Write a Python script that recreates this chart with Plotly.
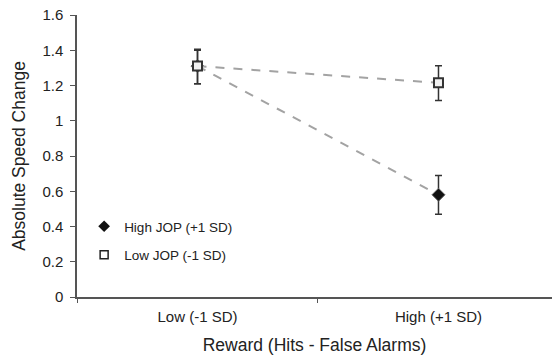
import plotly.graph_objects as go

categories = ["Low (-1 SD)", "High (+1 SD)"]
high_jop = [1.31, 0.58]
high_jop_err_plus = [0.09, 0.11]
high_jop_err_minus = [0.10, 0.11]
low_jop = [1.31, 1.215]
low_jop_err_plus = [0.095, 0.097]
low_jop_err_minus = [0.10, 0.10]
yticks = [0, 0.2, 0.4, 0.6, 0.8, 1, 1.2, 1.4, 1.6]
yticklabels = ["0", "0.2", "0.4", "0.6", "0.8", "1", "1.2", "1.4", "1.6"]

line_style = dict(color="#a3a3a3", width=2, dash="dash")
err_style = dict(color="#333", thickness=1.5, width=3.5)
diamond = dict(symbol="diamond", size=10, color="#111", line=dict(color="#666", width=1))
square = dict(symbol="square", size=9, color="#f2f2f2", line=dict(color="#333", width=2))

fig = go.Figure()
fig.add_trace(go.Scatter(
    x=categories, y=high_jop, name="High JOP (+1 SD)", showlegend=False,
    mode="lines+markers", line=line_style, marker=diamond,
    error_y=dict(type="data", symmetric=False, array=high_jop_err_plus,
                 arrayminus=high_jop_err_minus, **err_style),
))
fig.add_trace(go.Scatter(
    x=categories, y=low_jop, name="Low JOP (-1 SD)", showlegend=False,
    mode="lines+markers", line=line_style, marker=square,
    error_y=dict(type="data", symmetric=False, array=low_jop_err_plus,
                 arrayminus=low_jop_err_minus, **err_style),
))
# legend entries (marker only)
fig.add_trace(go.Scatter(x=[None], y=[None], name="High JOP (+1 SD)", mode="markers",
                         marker=dict(symbol="diamond", size=9, color="#111"),
                         legendgroup="a"))
fig.add_trace(go.Scatter(x=[None], y=[None], name="Low JOP (-1 SD)", mode="markers",
                         marker=dict(symbol="square", size=8, color="white",
                                     line=dict(color="#222", width=1.5)),
                         legendgroup="b"))

font_family = "Liberation Sans, Arial, sans-serif"
fig.update_layout(
    width=552, height=358,
    margin=dict(l=77, r=0, t=15, b=61),
    plot_bgcolor="white", paper_bgcolor="white",
    font=dict(family=font_family, color="#222", size=12),
    showlegend=True,
    legend=dict(x=0.015, y=0.305, xanchor="left", yanchor="top",
                font=dict(size=13.5, color="#222"), bgcolor="rgba(0,0,0,0)",
                traceorder="grouped", tracegroupgap=8, itemwidth=30),
    xaxis=dict(
        type="category", range=[-0.5, 1.471], tickson="boundaries",
        showline=True, linecolor="#555", linewidth=1.5,
        ticks="outside", ticklen=4, tickcolor="#555", tickwidth=1,
        ticklabelstandoff=5,
        showgrid=False, zeroline=False,
        tickfont=dict(size=15, color="#222"),
        title=dict(text="Reward (Hits - False Alarms)", font=dict(size=17.5, color="#222"), standoff=15),
    ),
    yaxis=dict(
        range=[0, 1.6], tickvals=yticks, ticktext=yticklabels,
        showline=True, linecolor="#555", linewidth=1.5,
        ticks="outside", ticklen=5, tickcolor="#555", tickwidth=1,
        ticklabelstandoff=4,
        showgrid=False, zeroline=False,
        tickfont=dict(size=15, color="#222"),
        title=dict(text="Absolute Speed Change", font=dict(size=17.5, color="#222"), standoff=12),
    ),
)

fig.write_html("out.html")
